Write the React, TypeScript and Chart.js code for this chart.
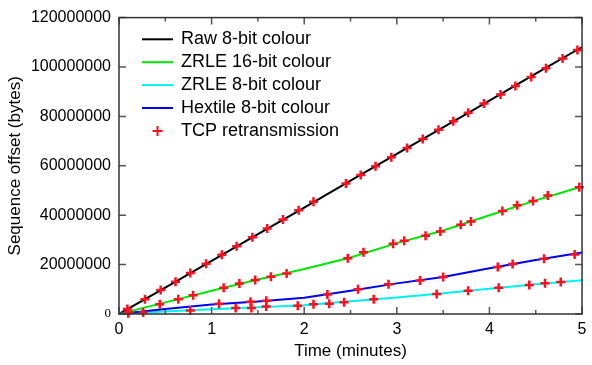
import React, { useEffect, useRef } from 'react';
import { Chart, registerables } from 'chart.js';

Chart.register(...registerables);

// ---- data (time in minutes, sequence offset in bytes) ----
const timeMinutes = [0, 0.5, 1, 1.5, 2, 2.5, 3, 3.5, 4, 4.5, 5];
const raw8bit = [0, 10700000, 21500000, 32300000, 43100000, 54000000, 64800000, 75600000, 86400000, 97300000, 108100000];
const zrle16bit = [0, 4700000, 9400000, 14000000, 18200000, 22900000, 28700000, 33800000, 40000000, 46000000, 51600000];
const zrle8bit = [0, 1000000, 1900000, 2700000, 3500000, 5200000, 6700000, 8400000, 10200000, 12000000, 13700000];
const hextile8bit = [0, 2000000, 3800000, 5100000, 6600000, 9400000, 12400000, 15000000, 18500000, 21900000, 24900000];

const tcpTimes = [
  // on Raw 8-bit
  0.09, 0.28, 0.45, 0.61, 0.77, 0.94, 1.11, 1.27, 1.44, 1.6, 1.77, 1.94, 2.1, 2.45, 2.61, 2.77, 2.94, 3.11, 3.28, 3.45, 3.61, 3.77, 3.94, 4.12, 4.28, 4.45, 4.61, 4.79, 4.95,
  // on ZRLE 16-bit
  0.1, 0.44, 0.64, 0.8, 1.13, 1.3, 1.47, 1.64, 1.81, 2.47, 2.64, 2.96, 3.08, 3.31, 3.47, 3.69, 3.8, 4.14, 4.3, 4.47, 4.63, 4.97,
  // on Hextile 8-bit
  1.08, 1.42, 1.59, 2.25, 2.58, 2.91, 3.25, 3.5, 4.09, 4.25, 4.59, 4.92,
  // on ZRLE 8-bit
  0.1, 0.26, 0.77, 1.26, 1.43, 1.59, 1.93, 2.1, 2.27, 2.43, 2.75, 3.43, 3.77, 4.1, 4.43, 4.6, 4.77,
];
const tcpOffsets = [
  2000000, 6000000, 9700000, 13100000, 16600000, 20300000, 24000000, 27400000, 31100000, 34600000, 38300000, 42000000, 45400000, 52800000, 56300000, 59800000, 63500000, 67200000, 70900000, 74600000, 78000000, 81500000, 85200000, 88900000, 92300000, 96000000, 99500000, 103400000, 106900000,
  800000, 3900000, 6000000, 7600000, 10600000, 12300000, 13800000, 15100000, 16400000, 22600000, 25000000, 28400000, 29700000, 31700000, 33400000, 36100000, 37400000, 41700000, 44000000, 45700000, 48000000, 51300000,
  4100000, 5000000, 5400000, 7900000, 10000000, 12000000, 13600000, 15000000, 19000000, 20200000, 22400000, 24100000,
  300000, 600000, 1400000, 2400000, 2400000, 3000000, 3300000, 3900000, 4200000, 4800000, 6000000, 8100000, 9400000, 10600000, 11700000, 12400000, 13000000,
];

const seriesLabels = ['Raw 8-bit colour', 'ZRLE 16-bit colour', 'ZRLE 8-bit colour', 'Hextile 8-bit colour', 'TCP retransmission'];
const seriesColors = ['#000000', '#00e600', '#00f0f0', '#0000f0', '#ff1020'];
const xMajorTicks = [0, 1, 2, 3, 4, 5];
const xMinorTicks = [0.5, 1.5, 2.5, 3.5, 4.5];
const yTicks = [0, 20000000, 40000000, 60000000, 80000000, 100000000, 120000000];

const SANS = "'Liberation Sans', Arial, Helvetica, sans-serif";

const toPoints = (xs: number[], ys: number[]) => xs.map((x, i) => ({ x, y: ys[i] }));

const framePlugin = {
  id: 'frameAndLegend',
  afterDatasetsDraw(chart: any) {
    const { ctx, chartArea: a, scales } = chart;
    const x = scales.x;
    const y = scales.y;
    ctx.save();
    // ticks (inward, mirrored)
    ctx.strokeStyle = '#555';
    ctx.lineWidth = 1.5;
    ctx.beginPath();
    xMajorTicks.forEach((t) => {
      const px = x.getPixelForValue(t);
      ctx.moveTo(px, a.bottom); ctx.lineTo(px, a.bottom - 7);
      ctx.moveTo(px, a.top); ctx.lineTo(px, a.top + 7);
    });
    xMinorTicks.forEach((t) => {
      const px = x.getPixelForValue(t);
      ctx.moveTo(px, a.bottom); ctx.lineTo(px, a.bottom - 4);
      ctx.moveTo(px, a.top); ctx.lineTo(px, a.top + 4);
    });
    yTicks.forEach((v) => {
      const py = y.getPixelForValue(v);
      ctx.moveTo(a.left, py); ctx.lineTo(a.left + 7, py);
      ctx.moveTo(a.right, py); ctx.lineTo(a.right - 7, py);
    });
    ctx.stroke();
    // frame
    ctx.strokeStyle = '#333';
    ctx.lineWidth = 1.5;
    ctx.strokeRect(a.left, a.top, a.right - a.left, a.bottom - a.top);

    // legend
    const x0 = a.left + 23;
    const x1 = a.left + 54;
    const tx = a.left + 62;
    const rowY0 = 39.3;
    const step = 22.9;
    ctx.font = `18px ${SANS}`;
    ctx.textBaseline = 'middle';
    ctx.textAlign = 'left';
    seriesLabels.forEach((label, i) => {
      const cy = rowY0 + i * step;
      if (i < 4) {
        ctx.strokeStyle = seriesColors[i];
        ctx.lineWidth = 2;
        ctx.beginPath();
        ctx.moveTo(x0, cy); ctx.lineTo(x1, cy);
        ctx.stroke();
      } else {
        const cx = (x0 + x1) / 2;
        ctx.strokeStyle = seriesColors[i];
        ctx.lineWidth = 2;
        ctx.beginPath();
        ctx.moveTo(cx - 5, cy); ctx.lineTo(cx + 5, cy);
        ctx.moveTo(cx, cy - 5); ctx.lineTo(cx, cy + 5);
        ctx.stroke();
      }
      ctx.fillStyle = '#000';
      ctx.fillText(label, tx, cy);
    });
    ctx.restore();
  },
};

export default function App() {
  const canvasRef = useRef<HTMLCanvasElement | null>(null);

  useEffect(() => {
    const canvas = canvasRef.current;
    if (!canvas) return;
    const lineDs = (i: number, data: number[], order: number) => ({
      label: seriesLabels[i],
      data: toPoints(timeMinutes, data),
      borderColor: seriesColors[i],
      backgroundColor: seriesColors[i],
      borderWidth: 2,
      pointRadius: 0,
      tension: 0,
      fill: false,
      order,
    });
    const chart = new Chart(canvas, {
      type: 'line',
      data: {
        datasets: [
          lineDs(0, raw8bit, 4),
          lineDs(1, zrle16bit, 3),
          lineDs(2, zrle8bit, 2),
          lineDs(3, hextile8bit, 1),
          {
            label: seriesLabels[4],
            data: toPoints(tcpTimes, tcpOffsets),
            showLine: false,
            pointStyle: 'cross',
            pointRadius: 4.5,
            pointBorderWidth: 2.5,
            pointBorderColor: seriesColors[4],
            pointBackgroundColor: seriesColors[4],
            borderColor: seriesColors[4],
            clip: false,
            order: 0,
          } as any,
        ],
      },
      options: {
        responsive: false,
        devicePixelRatio: 1,
        animation: false,
        layout: { padding: { left: 0, right: 5, top: 14, bottom: 0 } },
        plugins: {
          legend: { display: false },
          tooltip: { enabled: false },
        },
        scales: {
          x: {
            type: 'linear',
            min: 0,
            max: 5,
            grid: { display: false, drawTicks: false },
            border: { display: false },
            ticks: {
              stepSize: 1,
              padding: 5.5,
              color: '#000',
              font: { family: SANS, size: 16 },
              maxRotation: 0,
              callback: (v: any) => String(v),
            },
            title: {
              display: true,
              text: 'Time (minutes)',
              color: '#000',
              font: { family: SANS, size: 17 },
              padding: { top: 0, bottom: 3.5 },
            },
            afterFit: (s: any) => { s.height = 51; },
          },
          y: {
            type: 'linear',
            min: 0,
            max: 120000000,
            grid: { display: false, drawTicks: false },
            border: { display: false },
            ticks: {
              stepSize: 20000000,
              padding: 8,
              color: '#000',
              font: (c: any) =>
                c.tick && c.tick.value === 0
                  ? { family: "'Liberation Serif', 'Times New Roman', serif", size: 13 }
                  : { family: SANS, size: 16 },
              callback: (v: any) => String(v),
            },
            title: {
              display: true,
              text: 'Sequence offset (bytes)',
              color: '#000',
              font: { family: SANS, size: 17 },
              padding: { top: 5, bottom: 0 },
            },
            afterFit: (s: any) => { s.width = 119; },
          },
        },
      },
      plugins: [framePlugin],
    });
    return () => chart.destroy();
  }, []);

  return (
    <div style={{ position: 'fixed', left: 0, top: 0, width: 592, height: 365, background: '#fff' }}>
      <canvas ref={canvasRef} width={592} height={365} style={{ display: 'block', width: 592, height: 365 }} />
    </div>
  );
}
